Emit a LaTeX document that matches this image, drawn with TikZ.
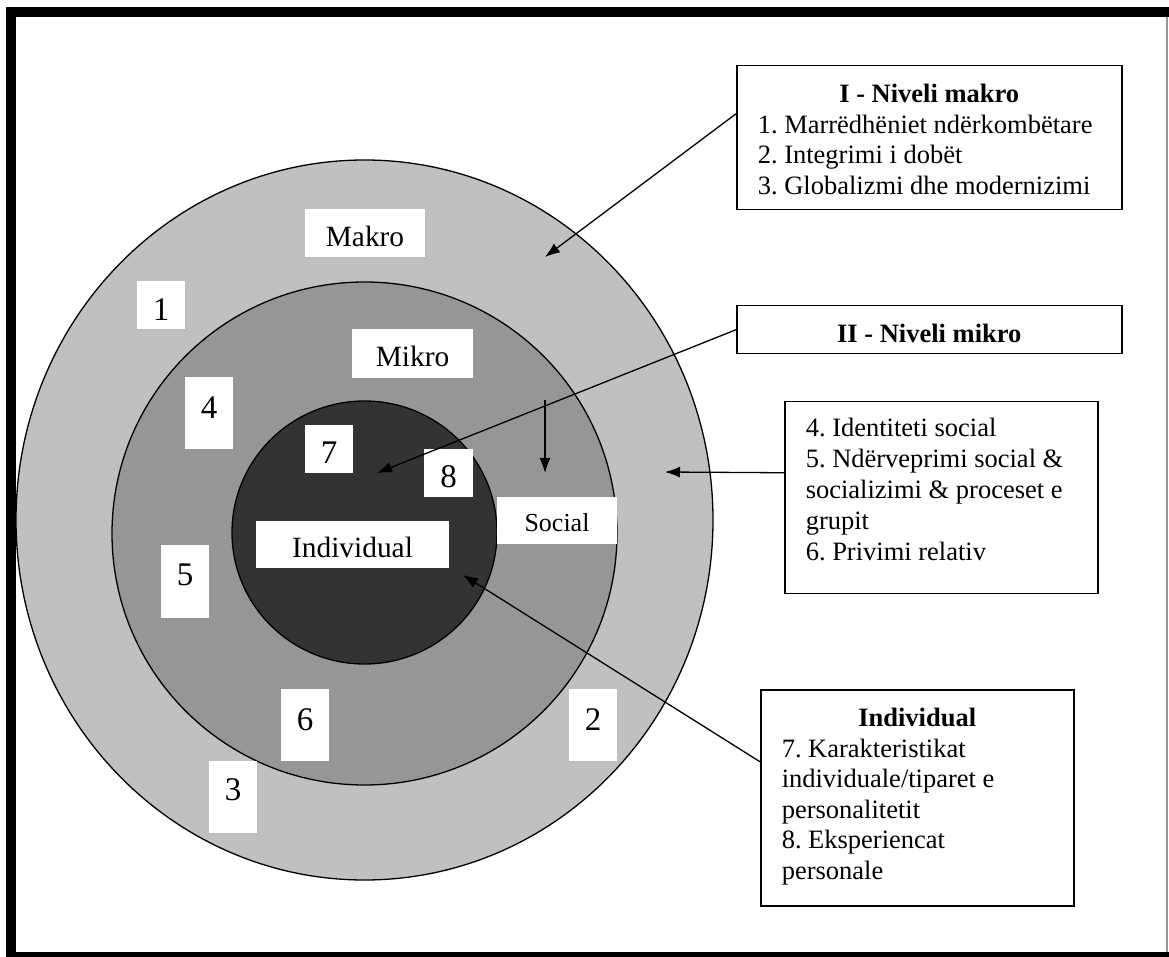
\documentclass[tikz,border=0pt]{standalone}
\usepackage{fontspec}
\setmainfont{Liberation Serif}
\usetikzlibrary{arrows.meta}
\definecolor{ringA}{RGB}{192,192,192}
\definecolor{ringB}{RGB}{150,150,150}
\definecolor{ringC}{RGB}{51,51,51}
\definecolor{edgegray}{RGB}{150,150,150}
\frenchspacing
\begin{document}
\begin{tikzpicture}[x=0.5pt,y=-0.5pt,
  lab/.style={fill=white, inner sep=0pt, font=\fontsize{14.7pt}{17pt}\selectfont},
  dig/.style={lab, minimum width=24pt, font=\fontsize{16.5pt}{19pt}\selectfont},
  infobox/.style={draw, line width=0.75pt, fill=white, inner xsep=10.5pt, inner ysep=0pt, anchor=north west},
  arr/.style={-{Latex[length=7.5pt,width=5.5pt]}, line width=0.65pt},
  ring/.style={draw=black, line width=0.65pt}]
\useasboundingbox (0,0) rectangle (1169,957);
% frame
\fill[white] (0,0) rectangle (1169,957);
\fill[black] (6,7) rectangle (1169,17);
\fill[black] (6,7) rectangle (16,957);
\fill[black] (6,952) rectangle (1169,957);
\draw[edgegray, line width=0.6pt] (1167,17) -- (1167,952);
% rings
\filldraw[ring, fill=ringA] (364.5,520) ellipse [x radius=348.5, y radius=360];
\filldraw[ring, fill=ringB] (364.5,533.5) ellipse [x radius=252.5, y radius=251.5];
\filldraw[ring, fill=ringC] (364.5,532.5) ellipse [x radius=132.5, y radius=131.5];
% labels
\node[lab, minimum width=60pt, minimum height=24pt, text height=14pt, text depth=0pt] (makro) at (365,233) {Makro\hspace{2.5pt}};
\node[lab, minimum width=60.5pt, minimum height=24.5pt, text height=13.5pt, text depth=0pt] (mikro) at (412.5,353.5) {Mikro\hspace{4pt}};
\node[lab, minimum width=60pt, minimum height=23.5pt, text height=11pt, text depth=0pt, font=\fontsize{13pt}{15pt}\selectfont] (social) at (557,520.5) {Social\hspace{7.5pt}};
\node[lab, minimum width=96.5pt, minimum height=23.5pt, text height=13pt, text depth=0pt] (indiv) at (352.5,544.5) {Individual\hspace{16pt}};
\node[dig, minimum height=24pt, text height=15.5pt, text depth=0pt] (n1) at (161,305) {1};
\node[dig, minimum height=36pt, text height=10.5pt, text depth=5pt] (n4) at (209,413) {4};
\node[dig, minimum height=24pt, text height=14.5pt, text depth=0pt] (n7) at (329,449) {7};
\node[dig, minimum width=24.5pt, minimum height=24pt, text height=14.5pt, text depth=0pt] (n8) at (448.5,473) {8};
\node[dig, minimum height=36.5pt, text height=10.5pt, text depth=6.5pt] (n5) at (185,581.5) {5};
\node[dig, minimum height=36pt, text height=10.5pt, text depth=5pt] (n6) at (305,725) {6};
\node[dig, minimum height=36pt, text height=10.5pt, text depth=7pt] (n3) at (233,797) {3};
\node[dig, minimum height=36pt, text height=10.5pt, text depth=5pt] (n2) at (593,725) {2};
% boxes
\node[infobox] (boxI) at (736,65) {\begin{minipage}[c][72pt][t]{171.5pt}\fontsize{13.25pt}{15.3pt}\selectfont
{\centering\rule{0pt}{18.5pt}\textbf{I - Niveli makro}\par}
\raggedright
1. Marrëdhëniet ndërkombëtare\\
2. Integrimi i dobët\\
3. Globalizmi dhe modernizimi
\end{minipage}};
\node[infobox] (boxII) at (736,305) {\begin{minipage}[c][24pt][t]{171.5pt}\fontsize{13.25pt}{15.3pt}\selectfont
{\centering\rule{0pt}{18.5pt}\textbf{II - Niveli mikro}\par}
\end{minipage}};
\node[infobox] (boxS) at (784,401) {\begin{minipage}[c][96pt][t]{135.5pt}\fontsize{13.25pt}{15.5pt}\selectfont
\raggedright
\rule{0pt}{17.5pt}4. Identiteti social\\
5. Ndërveprimi social \&\\
socializimi \& proceset e\\
grupit\\
6. Privimi relativ
\end{minipage}};
\node[infobox] (boxInd) at (760,689) {\begin{minipage}[c][108pt][t]{135.5pt}\fontsize{13.25pt}{15.25pt}\selectfont
{\centering\rule{0pt}{18.5pt}\textbf{Individual}\par}
\raggedright
7. Karakteristikat\\
individuale/tiparet e\\
personalitetit\\
8. Eksperiencat\\
personale
\end{minipage}};
% arrow ends
\coordinate (tipI) at (545,257);
\coordinate (tipII) at (377,473);
\coordinate (tipS) at (665,472);
\coordinate (tipInd) at (463,575);
\coordinate (vStart) at (545,400);
\coordinate (vEnd) at (545,473);
% arrows
\draw[arr] ([yshift=12pt]boxI.west) -- (tipI);
\draw[arr] (boxII.west) -- (tipII);
\draw[arr] ([yshift=12.5pt]boxS.west) -- (tipS);
\draw[arr] ([yshift=18pt]boxInd.west) -- (tipInd);
\draw[arr] (vStart) -- (vEnd);
\end{tikzpicture}
\end{document}
